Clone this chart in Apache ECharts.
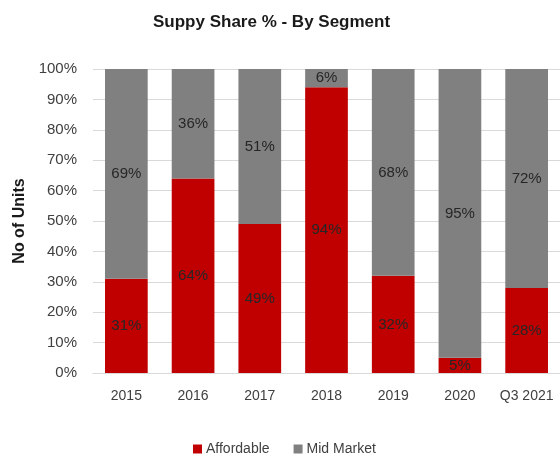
<!DOCTYPE html>
<html>
<head>
<meta charset="utf-8">
<script src="https://cdn.jsdelivr.net/npm/echarts@6/dist/echarts.min.js"></script>
<style>
  html, body { margin: 0; padding: 0; background: #fff; }
  #chart { width: 560px; height: 462px; }
</style>
</head>
<body>
<div id="chart"></div>
<script>
// data
const years = ['2015', '2016', '2017', '2018', '2019', '2020', 'Q3 2021'];
const affordable = [31, 64, 49, 94, 32, 5, 28];
const midMarket = [69, 36, 51, 6, 68, 95, 72];

let myChart = echarts.init(document.getElementById('chart'));
const font = 'Liberation Sans, Arial, sans-serif';
const labelStyle = {
  show: true,
  position: 'inside',
  formatter: '{c}%',
  color: '#262626',
  fontSize: 15,
  fontFamily: font
};

let option = {
  animation: false,
  title: {
    text: 'Suppy Share % - By Segment',
    left: 148,
    top: 9,
    textStyle: { fontSize: 17, fontWeight: 'bold', color: '#1a1a1a', fontFamily: font }
  },
  legend: {
    data: ['Affordable', 'Mid Market'],
    top: 437,
    left: 188,
    itemWidth: 9,
    itemHeight: 9,
    itemGap: 24,
    icon: 'rect',
    textStyle: { fontSize: 14, color: '#404040', fontFamily: font, padding: [0, 0, 0, -1] }
  },
  grid: { left: 93, right: -3, top: 69, bottom: 89 },
  xAxis: {
    type: 'category',
    data: years,
    axisTick: { show: false },
    axisLine: { lineStyle: { color: '#d9d9d9' } },
    axisLabel: { interval: 0, hideOverlap: false, color: '#404040', fontSize: 14, fontFamily: font, margin: 16 }
  },
  yAxis: {
    type: 'value',
    min: 0,
    max: 100,
    interval: 10,
    name: 'No of Units',
    nameLocation: 'middle',
    nameGap: 62,
    nameTextStyle: { fontSize: 16, fontWeight: 'bold', color: '#1a1a1a', fontFamily: font },
    axisLabel: { formatter: '{value}%', color: '#404040', fontSize: 15, fontFamily: font, margin: 16 },
    splitLine: { lineStyle: { color: '#d9d9d9' } }
  },
  series: [
    {
      name: 'Affordable',
      type: 'bar',
      stack: 'share',
      barWidth: '64%',
      itemStyle: { color: '#c00000' },
      label: labelStyle,
      data: affordable
    },
    {
      name: 'Mid Market',
      type: 'bar',
      stack: 'share',
      itemStyle: { color: '#808080' },
      label: labelStyle,
      data: midMarket
    }
  ]
};
myChart.setOption(option);
</script>
</body>
</html>
